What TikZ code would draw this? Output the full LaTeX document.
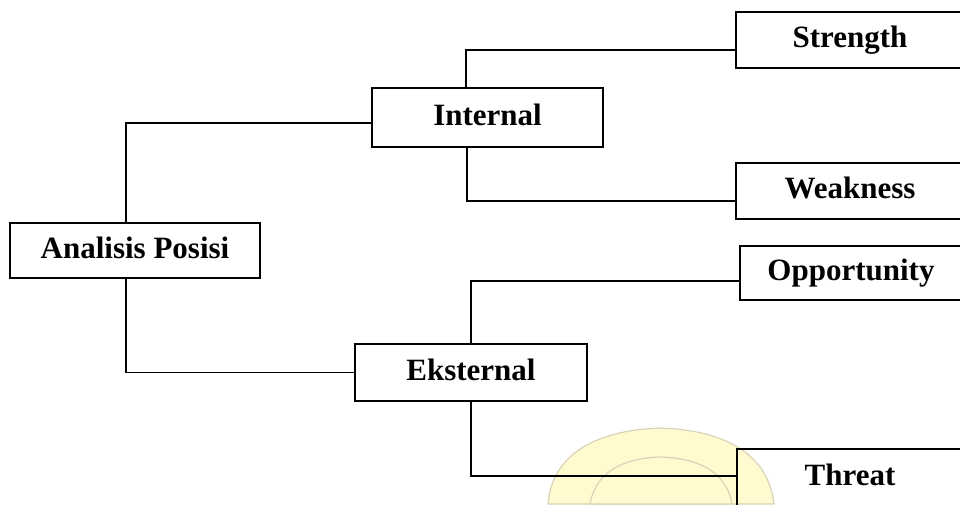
\documentclass[tikz,border=0pt]{standalone}
\usepackage{fontspec}
\setmainfont{Liberation Serif}
\definecolor{wmfill}{HTML}{FFFBCF}
\definecolor{wmline}{HTML}{D8D4B8}
\begin{document}
\begin{tikzpicture}[x=1pt,y=-1pt,
  box/.style={draw=black, line width=1.6pt, inner sep=0pt,
    font=\fontsize{31}{31}\selectfont\bfseries,
    text height=22pt, text depth=7pt, anchor=center},
  link/.style={draw=black, line width=1.5pt},
  wm/.style={fill=wmfill, draw=wmline, line width=1.2pt}]
\useasboundingbox (0,0) rectangle (960,504);
\clip (0,0) rectangle (960,504);

% faint badge in the lower middle
\path[wm] (548,504) .. controls (552,452) and (600,430) .. (660,428)
  .. controls (722,430) and (768,452) .. (774,504) -- cycle;
\path[wm] (590,504) .. controls (596,470) and (626,458) .. (660,457)
  .. controls (696,458) and (726,470) .. (732,504) -- cycle;

% boxes
\node[box, minimum width=250pt, minimum height=55pt] (ana) at (135,250.5) {Analisis Posisi};
\node[box, minimum width=231pt, minimum height=59pt] (int) at (487.5,117.5) {Internal};
\node[box, minimum width=232pt, minimum height=57pt] (eks) at (471,372.5) {Eksternal};
\node[box, minimum width=228pt, minimum height=56pt] (str) at (850,40) {Strength};
\node[box, minimum width=228pt, minimum height=56pt] (wea) at (850,191) {Weakness};
\node[box, minimum width=222pt, minimum height=54pt] (opp) at (851,273) {Opportunity};
\node[box, minimum width=226pt, minimum height=57pt] (thr) at (850,477.5) {Threat};

% connectors
\draw[link] ([xshift=-9pt]ana.north) |- ([yshift=-5.5pt]int.west);
\draw[link] ([xshift=-9pt]ana.south) |- (eks.west);
\draw[link] ([xshift=-21.5pt]int.north) |- ([yshift=-10pt]str.west);
\draw[link] ([xshift=-20.5pt]int.south) |- ([yshift=-10pt]wea.west);
\draw[link] (eks.north) |- ([yshift=-8pt]opp.west);
\draw[link] (eks.south) |- ([yshift=1.5pt]thr.west);
\end{tikzpicture}
\end{document}
